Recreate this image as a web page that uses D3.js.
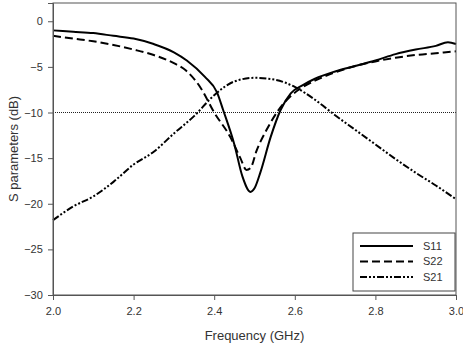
<!DOCTYPE html>
<html>
<head>
<meta charset="utf-8">
<script src="https://cdn.jsdelivr.net/npm/d3@7"></script>
<style>
  body { margin: 0; background: #fff; }
  text { font-family: "Liberation Sans", Arial, sans-serif; fill: #333; }
</style>
</head>
<body>
<div id="chart"></div>
<script>
var w = 463, h = 354;
var margin = {top: 3, right: 7, bottom: 59, left: 53};

// data
var s11Freq = [2.00, 2.05, 2.10, 2.15, 2.20, 2.25, 2.30, 2.332, 2.377, 2.407, 2.422, 2.45, 2.47, 2.49, 2.50, 2.515, 2.54, 2.565, 2.59, 2.62, 2.65, 2.70, 2.75, 2.80, 2.85, 2.90, 2.95, 2.98, 3.00];
var s11Vals = [-1.0, -1.15, -1.3, -1.6, -1.9, -2.5, -3.4, -4.3, -6.1, -7.8, -9.7, -13.5, -17.0, -18.7, -18.3, -16.5, -12.7, -9.7, -7.9, -7.0, -6.3, -5.5, -4.9, -4.3, -3.6, -3.1, -2.7, -2.3, -2.5];

var s22Freq = [2.00, 2.05, 2.10, 2.15, 2.20, 2.25, 2.30, 2.33, 2.365, 2.40, 2.44, 2.465, 2.48, 2.49, 2.505, 2.53, 2.56, 2.59, 2.62, 2.65, 2.70, 2.75, 2.80, 2.85, 2.90, 2.95, 3.00];
var s22Vals = [-1.6, -1.9, -2.2, -2.6, -3.1, -3.7, -4.6, -5.4, -7.2, -10.0, -12.7, -15.0, -16.3, -16.1, -14.2, -11.9, -9.7, -8.2, -7.2, -6.5, -5.6, -4.9, -4.4, -4.0, -3.7, -3.5, -3.3];

var s21Freq = [2.00, 2.05, 2.10, 2.15, 2.20, 2.25, 2.30, 2.35, 2.40, 2.45, 2.50, 2.55, 2.60, 2.65, 2.70, 2.75, 2.80, 2.85, 2.90, 2.95, 3.00];
var s21Vals = [-21.8, -20.3, -19.2, -17.6, -15.7, -14.3, -12.3, -10.4, -8.1, -6.6, -6.2, -6.4, -7.2, -8.6, -10.3, -11.9, -13.5, -15.1, -16.6, -18.0, -19.5];

var xTicks = [2.0, 2.2, 2.4, 2.6, 2.8, 3.0];
var yTicks = [0, -5, -10, -15, -20, -25, -30];
var refLevel = -10;

var series = [
  {name: "S11", f: s11Freq, v: s11Vals, dash: null},
  {name: "S22", f: s22Freq, v: s22Vals, dash: "8,4"},
  {name: "S21", f: s21Freq, v: s21Vals, dash: "7,2,2,2,2,2"}
];

var svg = d3.select("#chart").append("svg")
  .attr("width", w)
  .attr("height", h);

var xScale = d3.scaleLinear()
  .domain([2.0, 3.0])
  .range([margin.left, w - margin.right]);

var yScale = d3.scaleLinear()
  .domain([-30, 2])
  .range([h - margin.bottom, margin.top]);

var line = d3.line()
  .x(function(d) { return xScale(d[0]); })
  .y(function(d) { return yScale(d[1]); })
  .curve(d3.curveMonotoneX);

// reference line at -10 dB
svg.append("line")
  .attr("x1", xScale(2.0))
  .attr("x2", xScale(3.0))
  .attr("y1", yScale(refLevel))
  .attr("y2", yScale(refLevel))
  .attr("stroke", "#222")
  .attr("stroke-width", 1)
  .attr("stroke-dasharray", "1,1");

svg.selectAll("path.series")
  .data(series)
  .enter()
  .append("path")
  .attr("class", "series")
  .attr("d", function(s) { return line(d3.zip(s.f, s.v)); })
  .attr("fill", "none")
  .attr("stroke", "#000")
  .attr("stroke-width", 2)
  .attr("stroke-dasharray", function(s) { return s.dash; });

// frame
svg.append("rect")
  .attr("x", xScale(2.0))
  .attr("y", margin.top)
  .attr("width", xScale(3.0) - xScale(2.0))
  .attr("height", h - margin.bottom - margin.top)
  .attr("fill", "none")
  .attr("stroke", "#555")
  .attr("stroke-width", 1);

var xAxis = d3.axisBottom(xScale)
  .tickValues(xTicks)
  .tickFormat(d3.format(".1f"))
  .tickSizeOuter(0)
  .tickSize(5);

var yAxis = d3.axisLeft(yScale)
  .tickValues(yTicks)
  .tickFormat(d3.format("d"))
  .tickSizeOuter(0)
  .tickSize(5);

var gx = svg.append("g")
  .attr("transform", "translate(0," + (h - margin.bottom) + ")")
  .call(xAxis);

var gy = svg.append("g")
  .attr("transform", "translate(" + margin.left + ",0)")
  .call(yAxis);

[gx, gy].forEach(function(g) {
  g.select(".domain").attr("stroke", "#555");
  g.selectAll(".tick line").attr("stroke", "#555");
  g.selectAll(".tick text")
    .attr("font-size", "11px")
    .attr("font-family", "Liberation Sans, Arial, sans-serif")
    .attr("fill", "#333");
});
gx.selectAll(".tick text").attr("dy", "1.1em");
gy.selectAll(".tick text").attr("dx", "-0.2em");

svg.append("text")
  .attr("x", (xScale(2.0) + xScale(3.0)) / 2)
  .attr("y", 340)
  .attr("text-anchor", "middle")
  .attr("font-size", "13px")
  .text("Frequency (GHz)");

svg.append("text")
  .attr("transform", "translate(18," + yScale(-14) + ") rotate(-90)")
  .attr("text-anchor", "middle")
  .attr("font-size", "13px")
  .text("S parameters (dB)");

// legend
var legend = svg.append("g");
legend.append("rect")
  .attr("x", 353)
  .attr("y", 233)
  .attr("width", 102)
  .attr("height", 58)
  .attr("fill", "#fff")
  .attr("stroke", "#444")
  .attr("stroke-width", 1);

var rows = legend.selectAll("g.row")
  .data(series)
  .enter()
  .append("g")
  .attr("class", "row")
  .attr("transform", function(d, i) { return "translate(0," + (246 + i * 15.5) + ")"; });

rows.append("line")
  .attr("x1", 360)
  .attr("x2", 413)
  .attr("stroke", "#000")
  .attr("stroke-width", 2)
  .attr("stroke-dasharray", function(s) { return s.dash; });

rows.append("text")
  .attr("x", 423)
  .attr("dy", "0.35em")
  .attr("font-size", "11px")
  .text(function(s) { return s.name; });
</script>
</body>
</html>
